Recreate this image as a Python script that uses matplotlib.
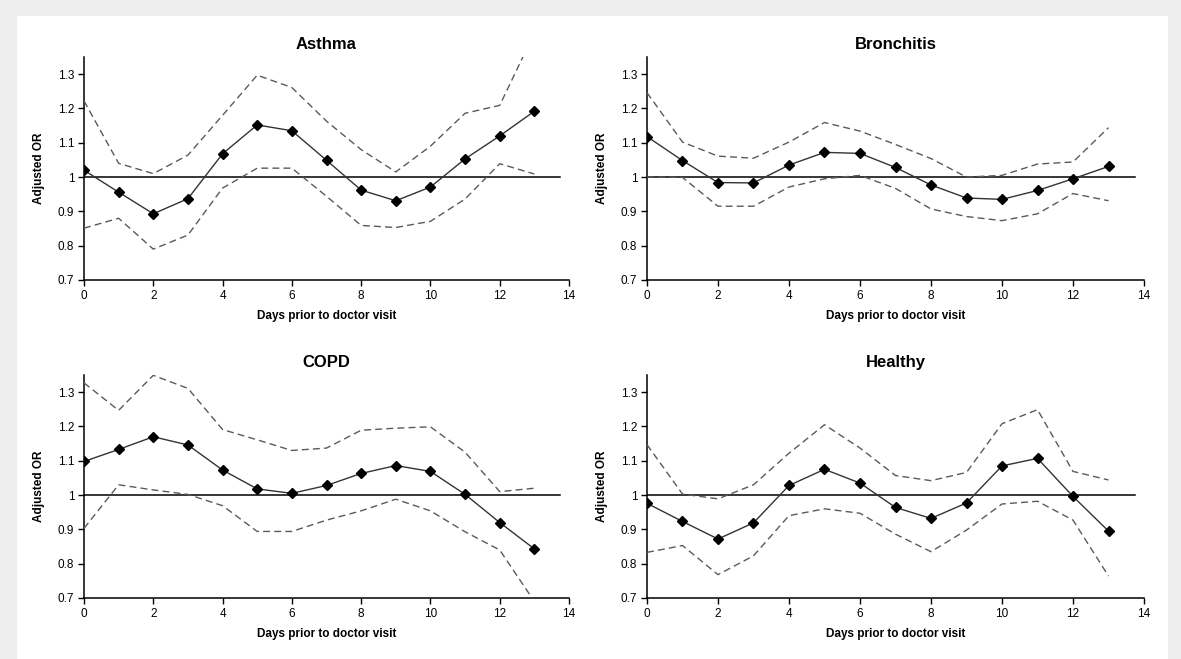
import matplotlib.pyplot as plt
from matplotlib.patches import Rectangle

plt.rcParams['font.family'] = ['Liberation Sans Narrow', 'Liberation Sans', 'DejaVu Sans']

days = list(range(14))

titles = ['Asthma', 'Bronchitis', 'COPD', 'Healthy']

# adjusted odds ratios, with upper / lower confidence limits
asthma_or = [1.02, 0.956, 0.893, 0.937, 1.068, 1.152, 1.135, 1.049, 0.962, 0.931, 0.971, 1.053, 1.120, 1.192]
asthma_hi = [1.222, 1.04, 1.01, 1.064, 1.18, 1.297, 1.261, 1.163, 1.080, 1.015, 1.090, 1.186, 1.209, 1.42]
asthma_lo = [0.851, 0.880, 0.790, 0.831, 0.968, 1.026, 1.026, 0.944, 0.859, 0.853, 0.871, 0.936, 1.039, 1.009]

bronch_or = [1.118, 1.048, 0.984, 0.983, 1.035, 1.072, 1.069, 1.028, 0.977, 0.939, 0.935, 0.961, 0.995, 1.031]
bronch_hi = [1.246, 1.102, 1.061, 1.055, 1.102, 1.159, 1.134, 1.095, 1.054, 1.0, 1.005, 1.038, 1.044, 1.144]
bronch_lo = [1.0, 0.999, 0.915, 0.915, 0.971, 0.995, 1.005, 0.967, 0.907, 0.885, 0.873, 0.893, 0.952, 0.931]

copd_or = [1.098, 1.133, 1.170, 1.146, 1.073, 1.018, 1.005, 1.028, 1.063, 1.086, 1.069, 1.002, 0.920, 0.843]
copd_hi = [1.327, 1.247, 1.349, 1.311, 1.191, 1.161, 1.130, 1.137, 1.189, 1.195, 1.199, 1.125, 1.010, 1.020]
copd_lo = [0.903, 1.030, 1.015, 1.002, 0.969, 0.894, 0.894, 0.927, 0.954, 0.988, 0.954, 0.893, 0.840, 0.69]

healthy_or = [0.976, 0.923, 0.872, 0.919, 1.028, 1.075, 1.035, 0.964, 0.932, 0.977, 1.085, 1.107, 0.996, 0.895]
healthy_hi = [1.147, 1.003, 0.989, 1.030, 1.122, 1.205, 1.137, 1.057, 1.042, 1.066, 1.208, 1.249, 1.069, 1.044]
healthy_lo = [0.833, 0.853, 0.768, 0.823, 0.940, 0.960, 0.947, 0.886, 0.835, 0.898, 0.974, 0.982, 0.927, 0.764]

panels = [(asthma_or, asthma_hi, asthma_lo),
          (bronch_or, bronch_hi, bronch_lo),
          (copd_or, copd_hi, copd_lo),
          (healthy_or, healthy_hi, healthy_lo)]

y_ticks = [0.7, 0.8, 0.9, 1.0, 1.1, 1.2, 1.3]
y_ticklabels = ['0.7', '0.8', '0.9', '1', '1.1', '1.2', '1.3']
x_ticks = [0, 2, 4, 6, 8, 10, 12, 14]

W, H = 1181, 659
fig = plt.figure(figsize=(W / 100, H / 100), dpi=100)
fig.patch.set_facecolor('#eeeeee')
fig.patches.append(Rectangle((17 / W, 0), (1168 - 17) / W, (H - 16) / H,
                             transform=fig.transFigure, facecolor='white',
                             edgecolor='none', zorder=-10))

# axes boxes in pixels: left, right, top, bottom
boxes = [(84, 569, 57, 280), (647, 1144, 57, 280),
         (84, 569, 375, 598), (647, 1144, 375, 598)]

for (l, r, t, b), title, (or_, hi, lo) in zip(boxes, titles, panels):
    ax = fig.add_axes([l / W, (H - b) / H, (r - l) / W, (b - t) / H])
    ax.patch.set_alpha(0)
    ax.set_xlim(0, 14)
    ax.set_ylim(0.7, 1.35)
    ax.plot([0, 13.75], [1, 1], color='black', lw=1.1, zorder=2)
    ax.plot(days, hi, color='#5a5a5a', lw=1, ls=(0, (5, 3)), zorder=3)
    ax.plot(days, lo, color='#5a5a5a', lw=1, ls=(0, (5, 3)), zorder=3)
    ax.plot(days, or_, color='#333333', lw=1, marker='D', ms=5.5,
            mfc='black', mec='black', zorder=4)
    for s in ['top', 'right']:
        ax.spines[s].set_visible(False)
    for s in ['left', 'bottom']:
        ax.spines[s].set_linewidth(1.1)
    ax.set_yticks(y_ticks)
    ax.set_yticklabels(y_ticklabels)
    ax.set_xticks(x_ticks)
    ax.tick_params(axis='both', direction='out', length=4, width=1,
                   labelsize=8.5, pad=3, colors='black')
    ax.set_title(title, fontsize=12, fontweight='bold', pad=6,
                 family=['Liberation Sans', 'DejaVu Sans'])
    ax.set_xlabel('Days prior to doctor visit', fontsize=8.5, fontweight='bold', labelpad=6)
    ax.set_ylabel('Adjusted OR', fontsize=8.5, fontweight='bold', labelpad=9)

fig.savefig('out.png', dpi=100, facecolor=fig.get_facecolor())
